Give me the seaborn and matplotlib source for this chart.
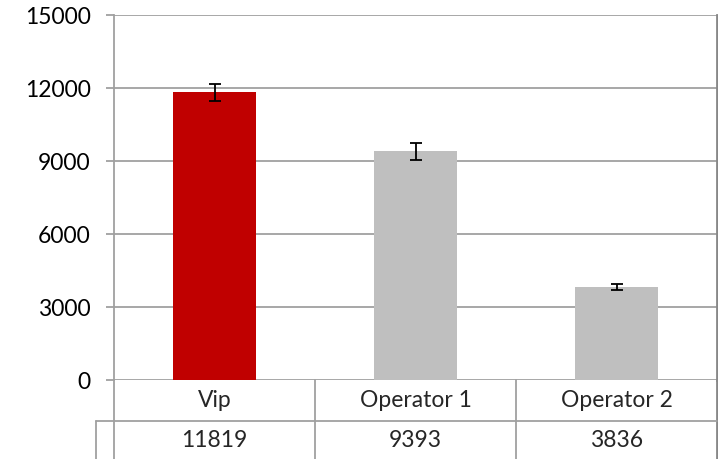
import matplotlib
matplotlib.use("Agg")
import matplotlib.pyplot as plt
import seaborn as sns
import numpy as np
import pandas as pd

categories = ["Vip", "Operator 1", "Operator 2"]
values = [11819, 9393, 3836]
errors = [340, 340, 120]
colors = ["#C00000", "#BFBFBF", "#BFBFBF"]
yticks = [0, 3000, 6000, 9000, 12000, 15000]

sns.set_theme(style="white")
plt.rcParams['font.family'] = ['Lato', 'DejaVu Sans']

W, H = 718, 460
fig = plt.figure(figsize=(W / 100, H / 100), dpi=100)
L, R, T, B = 114, 717, 16, 381
ax = fig.add_axes([L / W, 1 - B / H, (R - L) / W, (B - T) / H])

df = pd.DataFrame({"cat": categories, "val": values})
sns.barplot(data=df, x="cat", y="val", hue="cat", palette=colors, legend=False,
            width=0.41, errorbar=None, ax=ax, saturation=1, zorder=3, linewidth=0)
pos = np.arange(len(categories))
ax.errorbar(pos, values, yerr=errors, fmt="none", ecolor="black",
            elinewidth=1.3, capsize=4.5, capthick=1.3, zorder=4)

grid_c = "#A0A0A0"
fs = 16.5
ax.set_ylim(0, 15000)
ax.set_xlim(-0.5, len(categories) - 0.5)
ax.set_yticks(yticks)
ax.set_yticklabels([str(v) for v in yticks], fontsize=fs, color="black")
ax.yaxis.grid(True, color=grid_c, linewidth=1.3, zorder=0)
ax.set_axisbelow(True)
ax.tick_params(axis="y", left=True, length=5.8, width=1.3, color=grid_c, pad=11)
ax.tick_params(axis="x", bottom=False, labelbottom=False)
ax.set_xlabel("")
ax.set_ylabel("")
for s in ["top", "bottom"]:
    ax.spines[s].set_visible(False)
ax.spines["left"].set_color(grid_c)
ax.spines["left"].set_linewidth(1.3)
ax.spines["right"].set_color("#888888")
ax.spines["right"].set_linewidth(2)

# data table below the axes
ah = B - T
aw = R - L
row1 = -(422 - B) / ah
bottom = -(H - B + 2) / ah
xleft = (96 - L) / aw
trans = ax.get_xaxis_transform()
kw = dict(color=grid_c, linewidth=1.3, clip_on=False, zorder=5)
ax.plot([0, 0], [0, bottom], transform=ax.transAxes, **kw)
ax.plot([1, 1], [0, bottom], transform=ax.transAxes, color="#888888", linewidth=2, clip_on=False)
ax.plot([xleft, 1], [row1, row1], transform=ax.transAxes, **kw)
ax.plot([xleft, xleft], [row1, bottom], transform=ax.transAxes, **kw)
for i in range(1, len(categories)):
    ax.plot([i - 0.5, i - 0.5], [0, bottom], transform=trans, **kw)
for i, (c, v) in enumerate(zip(categories, values)):
    ax.text(i, -(401 - B) / ah, c, transform=trans, ha="center", va="center", fontsize=fs)
    ax.text(i, -(441 - B) / ah, str(v), transform=trans, ha="center", va="center", fontsize=fs)

fig.savefig("out.png", dpi=100)
